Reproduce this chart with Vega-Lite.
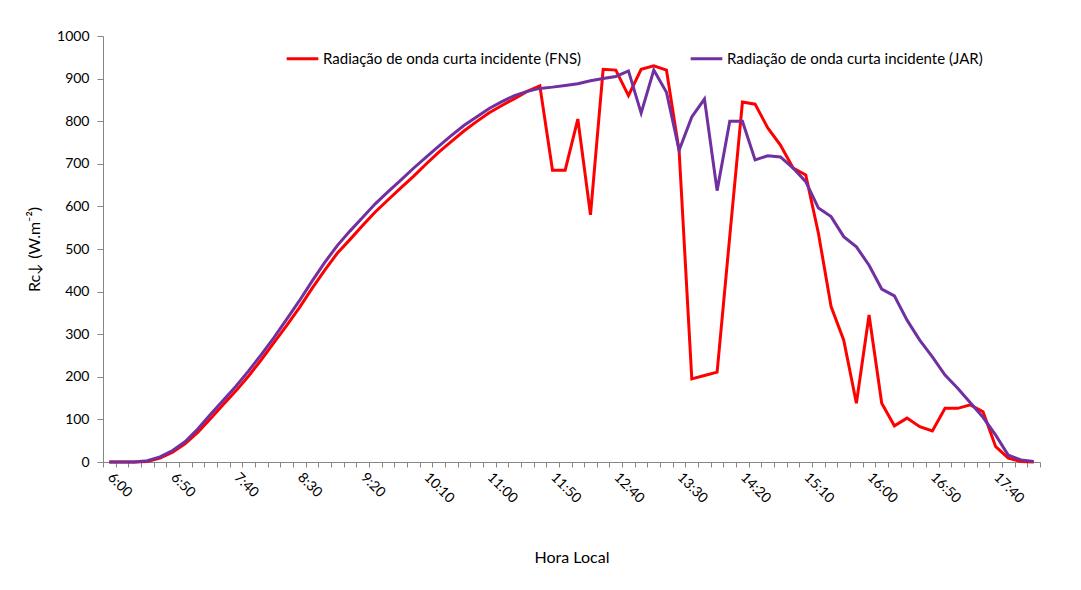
{
  "$schema": "https://vega.github.io/schema/vega-lite/v6.json",
  "width": 937,
  "height": 426,
  "autosize": {"type": "none"},
  "padding": {"left": 103, "top": 36, "right": 41, "bottom": 128},
  "background": "white",
  "config": {
    "font": "Lato",
    "view": {"stroke": null},
    "axis": {"labelFont": "Lato", "titleFont": "Lato", "labelColor": "#000000", "titleColor": "#000000", "domainColor": "#868686", "tickColor": "#868686", "grid": false}
  },
  "data": {"values": [
    {"hora": "6:00", "FNS": 0, "JAR": 0},
    {"hora": "6:10", "FNS": 0, "JAR": 0},
    {"hora": "6:20", "FNS": 0, "JAR": 0},
    {"hora": "6:30", "FNS": 1, "JAR": 3},
    {"hora": "6:40", "FNS": 9, "JAR": 12},
    {"hora": "6:50", "FNS": 23, "JAR": 27},
    {"hora": "7:00", "FNS": 43, "JAR": 48},
    {"hora": "7:10", "FNS": 70, "JAR": 78},
    {"hora": "7:20", "FNS": 102, "JAR": 112},
    {"hora": "7:30", "FNS": 135, "JAR": 145},
    {"hora": "7:40", "FNS": 167, "JAR": 178},
    {"hora": "7:50", "FNS": 202, "JAR": 214},
    {"hora": "8:00", "FNS": 240, "JAR": 252},
    {"hora": "8:10", "FNS": 280, "JAR": 292},
    {"hora": "8:20", "FNS": 320, "JAR": 335},
    {"hora": "8:30", "FNS": 362, "JAR": 378},
    {"hora": "8:40", "FNS": 407, "JAR": 424},
    {"hora": "8:50", "FNS": 450, "JAR": 468},
    {"hora": "9:00", "FNS": 490, "JAR": 508},
    {"hora": "9:10", "FNS": 522, "JAR": 542},
    {"hora": "9:20", "FNS": 555, "JAR": 574},
    {"hora": "9:30", "FNS": 587, "JAR": 606},
    {"hora": "9:40", "FNS": 615, "JAR": 634},
    {"hora": "9:50", "FNS": 643, "JAR": 661},
    {"hora": "10:00", "FNS": 670, "JAR": 689},
    {"hora": "10:10", "FNS": 699, "JAR": 715},
    {"hora": "10:20", "FNS": 727, "JAR": 741},
    {"hora": "10:30", "FNS": 752, "JAR": 766},
    {"hora": "10:40", "FNS": 777, "JAR": 790},
    {"hora": "10:50", "FNS": 799, "JAR": 810},
    {"hora": "11:00", "FNS": 820, "JAR": 830},
    {"hora": "11:10", "FNS": 837, "JAR": 846},
    {"hora": "11:20", "FNS": 853, "JAR": 860},
    {"hora": "11:30", "FNS": 870, "JAR": 870},
    {"hora": "11:40", "FNS": 883, "JAR": 877},
    {"hora": "11:50", "FNS": 685, "JAR": 880},
    {"hora": "12:00", "FNS": 685, "JAR": 884},
    {"hora": "12:10", "FNS": 805, "JAR": 888},
    {"hora": "12:20", "FNS": 580, "JAR": 895},
    {"hora": "12:30", "FNS": 922, "JAR": 900},
    {"hora": "12:40", "FNS": 920, "JAR": 905},
    {"hora": "12:50", "FNS": 860, "JAR": 918},
    {"hora": "13:00", "FNS": 922, "JAR": 819},
    {"hora": "13:10", "FNS": 930, "JAR": 920},
    {"hora": "13:20", "FNS": 920, "JAR": 868},
    {"hora": "13:30", "FNS": 730, "JAR": 732},
    {"hora": "13:40", "FNS": 195, "JAR": 810},
    {"hora": "13:50", "FNS": 203, "JAR": 852},
    {"hora": "14:00", "FNS": 211, "JAR": 637},
    {"hora": "14:10", "FNS": 530, "JAR": 800},
    {"hora": "14:20", "FNS": 845, "JAR": 800},
    {"hora": "14:30", "FNS": 840, "JAR": 709},
    {"hora": "14:40", "FNS": 784, "JAR": 719},
    {"hora": "14:50", "FNS": 744, "JAR": 716},
    {"hora": "15:00", "FNS": 690, "JAR": 690},
    {"hora": "15:10", "FNS": 674, "JAR": 658},
    {"hora": "15:20", "FNS": 537, "JAR": 596},
    {"hora": "15:30", "FNS": 365, "JAR": 576},
    {"hora": "15:40", "FNS": 286, "JAR": 529},
    {"hora": "15:50", "FNS": 138, "JAR": 505},
    {"hora": "16:00", "FNS": 345, "JAR": 462},
    {"hora": "16:10", "FNS": 138, "JAR": 406},
    {"hora": "16:20", "FNS": 85, "JAR": 390},
    {"hora": "16:30", "FNS": 103, "JAR": 333},
    {"hora": "16:40", "FNS": 83, "JAR": 286},
    {"hora": "16:50", "FNS": 73, "JAR": 247},
    {"hora": "17:00", "FNS": 126, "JAR": 204},
    {"hora": "17:10", "FNS": 126, "JAR": 173},
    {"hora": "17:20", "FNS": 134, "JAR": 139},
    {"hora": "17:30", "FNS": 118, "JAR": 105},
    {"hora": "17:40", "FNS": 36, "JAR": 63},
    {"hora": "17:50", "FNS": 9, "JAR": 16},
    {"hora": "18:00", "FNS": 1, "JAR": 5},
    {"hora": "18:10", "FNS": 0, "JAR": 1}
  ]},
  "encoding": {
    "x": {
      "field": "hora",
      "type": "ordinal",
      "sort": null,
      "bandPosition": 0.5,
      "scale": {"type": "band", "paddingInner": 0, "paddingOuter": 0},
      "axis": {
        "title": "Hora Local",
        "titleFontSize": 16,
        "titleFontWeight": "normal",
        "titlePadding": 44,
        "labelAngle": 45,
        "labelAlign": "left",
        "labelBaseline": "middle",
        "labelFontSize": 14,
        "labelPadding": 8,
        "labelOverlap": false,
        "tickBand": "extent",
        "tickSize": 5,
        "labelExpr": "(toNumber(split(datum.value, ':')[0]) * 60 + toNumber(split(datum.value, ':')[1]) - 360) % 50 == 0 ? datum.value : ''"
      }
    }
  },
  "layer": [
    {
      "mark": {"type": "line", "strokeWidth": 3, "interpolate": "linear"},
      "encoding": {
        "y": {
          "field": "FNS",
          "type": "quantitative",
          "scale": {"domain": [0, 1000], "nice": false},
          "axis": {
            "title": "Rc↓ (W.m⁻²)",
            "titleFontSize": 16,
            "titleFontWeight": "normal",
            "titlePadding": 14,
            "labelFontSize": 14,
            "labelPadding": 8,
            "labelOverlap": false,
            "format": "d",
            "values": [0, 100, 200, 300, 400, 500, 600, 700, 800, 900, 1000],
            "tickSize": 6
          }
        },
        "color": {
          "datum": "Radiação de onda curta incidente (FNS)",
          "type": "nominal",
          "scale": {
            "domain": ["Radiação de onda curta incidente (FNS)", "Radiação de onda curta incidente (JAR)"],
            "range": ["#FF0000", "#7030A0"]
          },
          "legend": {
            "title": null,
            "orient": "none",
            "direction": "horizontal",
            "legendX": 182,
            "legendY": 5,
            "symbolType": "stroke",
            "symbolSize": 1000,
            "symbolStrokeWidth": 3,
            "labelFont": "Lato",
            "labelFontSize": 15,
            "labelColor": "#000000",
            "labelLimit": 400,
            "labelOffset": 3,
            "columnPadding": 102
          }
        }
      }
    },
    {
      "mark": {"type": "line", "strokeWidth": 3, "interpolate": "linear"},
      "encoding": {
        "y": {"field": "JAR", "type": "quantitative"},
        "color": {"datum": "Radiação de onda curta incidente (JAR)", "type": "nominal"}
      }
    }
  ]
}
